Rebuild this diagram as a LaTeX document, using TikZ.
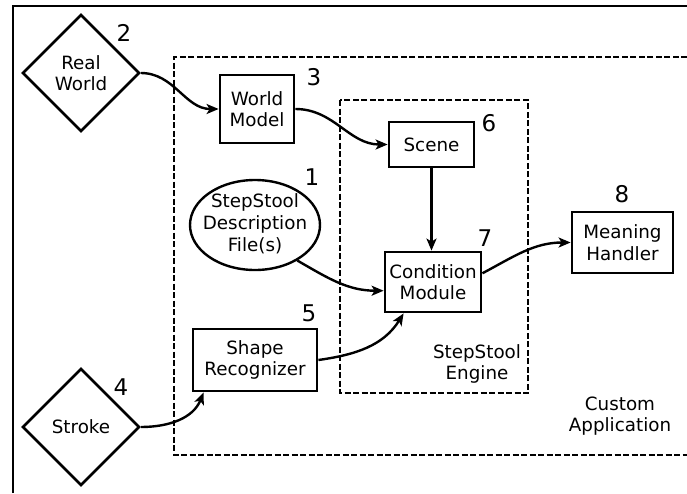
\documentclass[tikz,border=0pt]{standalone}
\usepackage{fontspec}
\setmainfont{DejaVu Sans}
\usetikzlibrary{shapes.geometric,arrows.meta}
\begin{document}
\begin{tikzpicture}[x=1pt,y=-1pt,
  txt/.style={font=\fontsize{18.3}{21.5}\selectfont, align=center},
  box/.style={draw, line width=2.8pt, rectangle, inner sep=0pt, txt},
  dia/.style={draw, line width=2.6pt, diamond, shape aspect=1, minimum width=117pt, minimum height=117pt, inner sep=0pt, txt},
  ell/.style={draw, line width=2.4pt, ellipse, minimum width=130pt, minimum height=90pt, inner sep=0pt, txt},
  num/.style={font=\fontsize{23}{25}\selectfont, inner sep=0pt},
  arr/.style={line width=2.4pt, -{Stealth[length=12pt,width=10pt,inset=3pt]}},
  dashbox/.style={line width=2.4pt, dash pattern=on 6pt off 2.5pt}
]
\useasboundingbox (0,0) rectangle (687,493);
% outer frame
\draw[line width=1.8pt] (13,493) -- (13,6) -- (687,6);
% custom application
\draw[dashbox] (687,57) -- (174,57) -- (174,455) -- (687,455);
% stepstool engine
\draw[dashbox] (340,100) rectangle (528,393);

\node[dia] (rw) at (81,73) {Real\\World};
\node[dia] (st) at (81,427) {Stroke};
\node[box, minimum width=74pt, minimum height=68pt] (wm) at (257,109) {World\\Model};
\node[box, minimum width=85pt, minimum height=45pt] (sc) at (431.5,144.5) {Scene};
\node[ell] (sd) at (255,225) {\makebox[0pt]{\raisebox{-5pt}[0pt][0pt]{\begin{tabular}{@{}c@{}}StepStool\\[0.5pt]Description\\[0.5pt]File(s)\end{tabular}}}};
\node[box, minimum width=96pt, minimum height=60pt] (cm) at (433,282) {Condition\\Module};
\node[box, minimum width=101pt, minimum height=61pt] (mh) at (622.5,242.5) {Meaning\\Handler};
\node[box, minimum width=124pt, minimum height=62pt] (sr) at (255,360) {Shape\\Recognizer};

\node[txt] (eng) at (477,364) {StepStool\\Engine};
\node[txt] (app) at (620,416) {Custom\\Application};

\node[num] (n2) at (124,33) {2};
\node[num] (n3) at (314,77) {3};
\node[num] (n1) at (312,177) {1};
\node[num] (n6) at (489,123) {6};
\node[num] (n7) at (485,238) {7};
\node[num] (n8) at (622,194) {8};
\node[num] (n5) at (309,313) {5};
\node[num] (n4) at (121,387) {4};

\draw[arr] (rw.east) to[out=0,in=180] (wm.west);
\draw[arr] (wm.east) to[out=0,in=180] (sc.west);
\draw[arr] (sc.south) -- (sc.south |- cm.north);
\draw[arr] (sd.-40) to[out=-30,in=180] (cm.190);
\draw[arr] (sr.east) to[out=8,in=-122] ([xshift=20pt]cm.south west);
\draw[arr] (st.east) to[out=0,in=-112] ([xshift=12pt]sr.south west);
\draw[arr] (cm.10) to[out=28,in=180] (mh.west);
\end{tikzpicture}
\end{document}
